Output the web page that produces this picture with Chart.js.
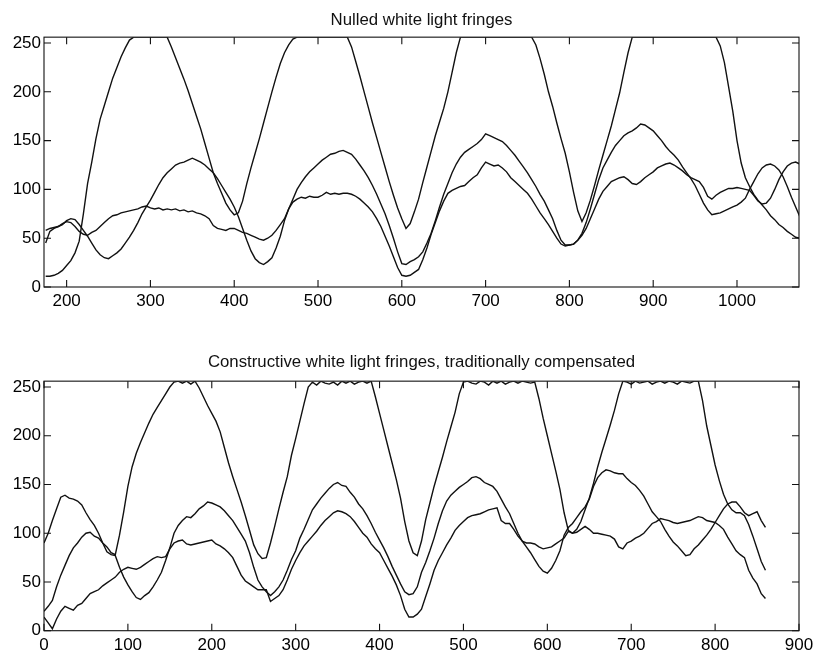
<!DOCTYPE html>
<html>
<head>
<meta charset="utf-8">
<script src="https://cdn.jsdelivr.net/npm/chart.js@4.4.1/dist/chart.umd.min.js"></script>
<style>
  html, body { margin: 0; padding: 0; background: #fff; }
  canvas { position: absolute; left: 0; }
  #topChart { top: 0; }
  #bottomChart { top: 310px; }
</style>
</head>
<body>
<canvas id="topChart" width="814" height="310"></canvas>
<canvas id="bottomChart" width="814" height="344"></canvas>
<script>
// tick labels
const topTicks = [200, 300, 400, 500, 600, 700, 800, 900, 1000];
const bottomTicks = [0, 100, 200, 300, 400, 500, 600, 700, 800, 900];
const yTicks = [0, 50, 100, 150, 200, 250];

// top panel: nulled fringes, samples every 5 frames
const topX = [
  175,180,185,190,195,200,205,210,215,220, 225,230,235,240,245,250,255,260,265,270,
  275,280,285,290,295,300,305,310,315,320, 325,330,335,340,345,350,355,360,365,370,
  375,380,385,390,395,400,405,410,415,420, 425,430,435,440,445,450,455,460,465,470,
  475,480,485,490,495,500,505,510,515,520, 525,530,535,540,545,550,555,560,565,570,
  575,580,585,590,595,600,605,610,615,620, 625,630,635,640,645,650,655,660,665,670,
  675,680,685,690,695,700,705,710,715,720, 725,730,735,740,745,750,755,760,765,770,
  775,780,785,790,795,800,805,810,815,820, 825,830,835,840,845,850,855,860,865,870,
  875,880,885,890,895,900,905,910,915,920, 925,930,935,940,945,950,955,960,965,970,
  975,980,985,990,995,1000,1005,1010,1015,1020, 1025,1030,1035,1040,1045,1050,1055,1060,1065,1070,
  1075
];
const topA = [
  11,11,12,14,17,22,27,35,47,75, 106,128,152,172,186,200,214,225,236,245,
  253,256,256,256,256,256,256,256,256,256, 246,235,224,213,201,188,175,162,147,132,
  117,106,96,86,79,74,76,88,106,122, 137,152,168,184,200,215,229,240,248,254,
  256,256,256,256,256,256,256,256,256,256, 256,256,256,246,231,216,200,184,168,153,
  138,123,108,94,81,70,60,65,77,90, 107,123,139,155,169,183,200,220,240,256,
  256,256,256,256,256,256,256,256,256,256, 256,256,256,256,256,256,256,248,234,218,
  200,185,168,152,137,118,97,78,67,76, 89,104,120,135,150,165,182,199,220,240,
  256,256,256,256,256,256,256,256,256,256, 256,256,256,256,256,256,256,256,256,256,
  256,247,230,205,180,150,127,112,103,95, 89,84,79,73,69,64,61,57,54,51,
  50
];
const topB = [
  45,57,60,62,64,68,70,69,64,58, 52,45,38,33,30,29,32,35,39,45,
  51,58,66,75,82,89,97,105,112,117, 121,125,127,128,130,132,130,128,125,121,
  117,111,104,97,90,82,72,60,48,37, 29,25,23,26,30,40,52,68,80,90,
  100,107,113,118,122,126,130,133,136,137, 139,140,138,136,131,125,119,112,104,95,
  85,75,63,50,36,24,23,26,28,31, 36,45,55,68,82,95,106,117,126,133,
  138,141,144,147,151,157,155,153,151,149, 145,140,135,129,123,117,110,103,95,88,
  79,70,58,48,43,43,44,48,55,66, 80,95,110,122,130,138,145,150,155,158,
  160,163,167,166,163,160,155,150,144,139, 135,130,123,117,111,104,95,86,79,74,
  75,76,78,80,82,84,87,91,100,108, 116,122,125,126,124,120,113,103,92,82,
  72
];
const topC = [
  58,60,61,62,65,67,66,62,57,54, 53,56,58,62,66,70,73,74,76,77,
  78,79,80,82,83,81,80,81,79,80, 79,80,78,79,77,78,76,75,73,70,
  63,60,59,58,60,60,58,56,55,53, 51,49,48,50,53,58,64,70,80,87,
  90,92,91,93,92,92,94,97,95,96, 95,96,96,95,93,90,86,82,77,70,
  62,52,42,31,20,12,11,12,15,18, 28,40,54,66,78,88,96,99,101,103,
  104,108,112,115,122,128,126,124,125,122, 118,112,108,104,100,96,90,83,76,70,
  64,57,50,44,42,43,44,48,53,60, 70,80,90,98,103,108,110,112,113,110,
  106,105,108,112,115,118,122,124,126,127, 125,122,119,115,112,110,108,102,93,90,
  94,97,99,101,101,102,101,100,99,94, 88,85,86,91,100,110,118,124,127,128,
  126
];

// bottom panel: constructive fringes, traditionally compensated
const bottomX = [
  0,5,10,15,20,25,30,35,40,45, 50,55,60,65,70,75,80,85,90,95,
  100,105,110,115,120,125,130,135,140,145, 150,155,160,165,170,175,180,185,190,195,
  200,205,210,215,220,225,230,235,240,245, 250,255,260,265,270,275,280,285,290,295,
  300,305,310,315,320,325,330,335,340,345, 350,355,360,365,370,375,380,385,390,395,
  400,405,410,415,420,425,430,435,440,445, 450,455,460,465,470,475,480,485,490,495,
  500,505,510,515,520,525,530,535,540,545, 550,555,560,565,570,575,580,585,590,595,
  600,605,610,615,620,625,630,635,640,645, 650,655,660,665,670,675,680,685,690,695,
  700,705,710,715,720,725,730,735,740,745, 750,755,760,765,770,775,780,785,790,795,
  800,805,810,815,820,825,830,835,840,845, 850,855,860
];
const bottomA = [
  20,25,31,45,57,67,77,85,90,96, 100,101,97,95,90,86,80,78,98,122,
  148,168,182,193,203,213,222,229,236,243, 250,255,256,254,256,253,256,249,240,231,
  223,215,204,188,172,158,145,132,118,103, 88,79,74,75,90,107,125,142,158,180,
  197,215,233,250,255,252,256,254,253,255, 252,256,254,256,253,255,256,254,256,240,
  223,206,189,172,155,136,112,92,80,77, 92,114,131,148,163,178,194,209,224,243,
  255,256,254,253,256,255,252,256,254,256, 253,255,256,254,256,255,254,255,238,218,
  200,182,164,145,121,103,100,104,112,124, 136,151,168,183,197,211,226,243,256,255,
  253,256,254,255,256,253,255,256,254,256, 255,253,256,255,254,256,256,236,210,190,
  170,154,140,130,124,121,121,118,109,97, 84,71,62
];
const bottomB = [
  90,100,113,125,137,139,136,135,133,129, 121,114,108,100,90,81,78,77,65,55,
  47,40,34,32,36,39,45,52,60,72, 85,100,108,113,117,116,120,125,128,132,
  131,129,127,123,118,113,106,99,92,80, 65,52,45,40,36,40,45,52,62,73,
  82,95,104,114,124,130,136,141,146,150, 152,149,148,142,137,130,125,118,110,101,
  93,85,76,66,57,48,40,37,38,45, 60,70,82,95,110,123,133,139,143,147,
  150,153,157,158,156,152,150,148,143,135, 127,120,110,100,92,86,80,73,66,61,
  59,64,72,82,98,106,110,116,122,127, 135,148,157,162,165,164,162,161,161,156,
  152,149,144,138,130,122,117,112,104,97, 91,87,82,77,78,84,88,93,98,104,
  111,118,125,130,132,132,127,121,118,120, 122,113,106
];
const bottomC = [
  14,8,2,12,20,25,23,21,26,28, 33,38,40,42,46,49,52,55,60,63,
  65,64,63,65,68,71,74,76,75,76, 84,90,92,93,89,88,89,90,91,92,
  93,89,87,84,80,75,66,57,51,48, 45,42,42,42,30,33,36,42,52,63,
  72,80,87,92,97,102,108,113,117,121, 123,122,120,117,112,106,100,96,89,84,
  80,72,64,56,47,36,22,14,14,17, 22,35,48,62,72,80,88,95,103,108,
  112,116,118,119,120,122,124,125,126,113, 110,110,104,97,92,90,90,89,86,84,
  85,86,89,92,95,102,100,101,104,107, 104,100,100,99,98,97,94,86,84,90,
  92,95,97,100,105,110,112,115,114,113, 111,110,111,112,113,115,117,116,113,112,
  111,108,104,96,89,82,78,75,62,54, 48,38,33
];

const fontFamily = '"Liberation Sans", Arial, Helvetica, sans-serif';

// box round the plot with inward ticks on all four sides
const frameTicks = {
  id: 'frameTicks',
  afterDatasetsDraw(chart) {
    const { ctx, chartArea: a, scales: { x, y } } = chart;
    const len = 7;
    ctx.save();
    ctx.strokeStyle = '#111';
    ctx.lineWidth = 1.1;
    ctx.beginPath();
    x.ticks.forEach(t => {
      const px = x.getPixelForValue(t.value);
      ctx.moveTo(px, a.bottom); ctx.lineTo(px, a.bottom - len);
      ctx.moveTo(px, a.top); ctx.lineTo(px, a.top + len);
    });
    y.ticks.forEach(t => {
      const py = y.getPixelForValue(t.value);
      ctx.moveTo(a.left, py); ctx.lineTo(a.left + len, py);
      ctx.moveTo(a.right, py); ctx.lineTo(a.right - len, py);
    });
    ctx.stroke();
    ctx.strokeRect(a.left, a.top, a.right - a.left, a.bottom - a.top);
    ctx.restore();
  }
};

function makeChart(id, title, xs, series, xMin, xMax, xTicks, titlePad, xHeight) {
  return new Chart(document.getElementById(id), {
    type: 'line',
    data: {
      datasets: series.map(s => ({
        data: s.map((v, i) => ({ x: xs[i], y: v })),
        borderColor: '#111',
        borderWidth: 1.4,
        pointRadius: 0,
        tension: 0,
        fill: false
      }))
    },
    options: {
      responsive: false,
      animation: false,
      events: [],
      layout: { padding: { left: 0, right: 15, top: 0, bottom: 0 } },
      plugins: {
        legend: { display: false },
        tooltip: { enabled: false },
        title: {
          display: true,
          fullSize: false,
          text: title,
          color: '#111',
          font: { family: fontFamily, size: 16.8, weight: 'normal', lineHeight: 1.2 },
          padding: titlePad
        }
      },
      scales: {
        x: {
          type: 'linear',
          min: xMin,
          max: xMax,
          grid: { display: false, drawTicks: false },
          border: { display: false },
          ticks: {
            autoSkip: false, maxRotation: 0,
            padding: 4, color: '#000', font: { family: fontFamily, size: 17 },
            callback: v => String(v)
          },
          afterBuildTicks: s => { s.ticks = xTicks.map(v => ({ value: v })); },
          afterFit: s => { s.height = xHeight; s.paddingLeft = 0; s.paddingRight = 0; }
        },
        y: {
          min: 0,
          max: 256,
          grid: { display: false, drawTicks: false },
          border: { display: false },
          ticks: {
            padding: 3, color: '#000', font: { family: fontFamily, size: 17 },
            callback: v => String(v)
          },
          afterBuildTicks: s => { s.ticks = yTicks.map(v => ({ value: v })); },
          afterFit: s => { s.width = 44; s.paddingTop = 0; s.paddingBottom = 0; }
        }
      }
    },
    plugins: [frameTicks]
  });
}

makeChart('topChart', 'Nulled white light fringes', topX, [topA, topB, topC],
  173, 1074, topTicks, { top: 10, bottom: 7 }, 23);
makeChart('bottomChart', 'Constructive white light fringes, traditionally compensated',
  bottomX, [bottomA, bottomB, bottomC], 0, 900, bottomTicks, { top: 42, bottom: 9 }, 23.3);
</script>
</body>
</html>
